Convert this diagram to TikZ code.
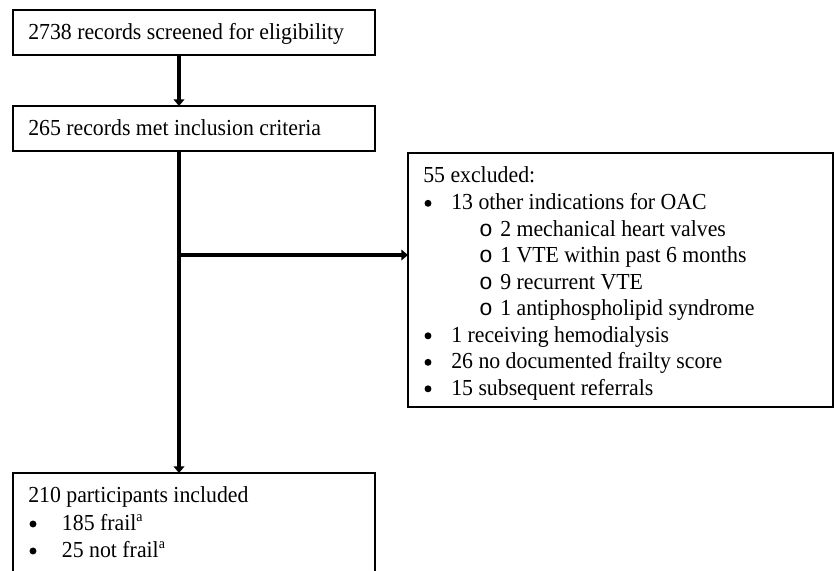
\documentclass[tikz,border=0pt]{standalone}
\usepackage{fontspec}
\setmainfont{Liberation Serif}[FakeStretch=0.95]
\newfontfamily\subbul{Liberation Mono}
\usetikzlibrary{arrows.meta}
\begin{document}
\begin{tikzpicture}[x=0.75pt,y=-0.75pt,
  box/.style={draw,line width=1.1pt,rectangle,anchor=north west,inner sep=0pt,outer sep=0pt,minimum width=271.5pt,minimum height=33.75pt},
  txt/.style={anchor=base west,inner sep=0pt,font=\fontsize{17.2}{21}\selectfont},
  sub/.style={anchor=base,inner sep=0pt,font=\fontsize{17.2}{21}\selectfont\subbul},
  dot/.style={circle,fill=black,draw=none,inner sep=0pt,minimum size=5.2pt},
  arr/.style={line width=3pt,-{Triangle[width=8pt,length=5pt]}}]
\useasboundingbox (0,0) rectangle (836,571);
\clip (0,0) rectangle (836,571);
% boxes
\node[box] (b1) at (13,10) {};
\node[box] (b2) at (13,106) {};
\node[box,minimum width=318.75pt,minimum height=190.5pt] (b3) at (408,153) {};
\node[box,minimum height=95.25pt] (b4) at (13,473) {};
% texts
\node[txt] (t1) at (28,39.5) {2738 records screened for eligibility};
\node[txt] (t2) at (28,135.5) {265 records met inclusion criteria};
\node[txt] (e0) at (423,182.5) {55 excluded:};
\node[dot] (e1b) at (428,203.3) {};
\node[txt] (e1) at (451,209.8) {13 other indications for OAC};
\node[sub] (e2b) at (486,236.3) {o};
\node[txt] (e2) at (500,236.3) {2 mechanical heart valves};
\node[sub] (e3b) at (486,262.8) {o};
\node[txt] (e3) at (500,262.8) {1 VTE within past 6 months};
\node[sub] (e4b) at (486,289.3) {o};
\node[txt] (e4) at (500,289.3) {9 recurrent VTE};
\node[sub] (e5b) at (486,315.8) {o};
\node[txt] (e5) at (500,315.8) {1 antiphospholipid syndrome};
\node[dot] (e6b) at (428,335.8) {};
\node[txt] (e6) at (451,342.3) {1 receiving hemodialysis};
\node[dot] (e7b) at (428,362.3) {};
\node[txt] (e7) at (451,368.8) {26 no documented frailty score};
\node[dot] (e8b) at (428,388.8) {};
\node[txt] (e8) at (451,395.3) {15 subsequent referrals};
\newcommand{\supa}{\raisebox{0.38em}{\fontsize{11}{11}\selectfont a}}
\node[txt] (p0) at (28,502.5) {210 participants included};
\node[dot] (p1b) at (33,524) {};
\node[txt] (p1) at (61.7,530.5) {185 frail\supa};
\node[dot] (p2b) at (33,551) {};
\node[txt] (p2) at (61.7,557.5) {25 not frail\supa};
% connectors
\draw[arr] ([xshift=124.5pt]b1.south west) -- ([xshift=124.5pt]b2.north west);
\draw[arr] ([xshift=124.5pt]b2.south west) -- ([xshift=124.5pt]b4.north west);
\coordinate (j) at (179,255);
\draw[arr] ([xshift=-1.5pt]j) -- (j -| b3.west);
\end{tikzpicture}
\end{document}
